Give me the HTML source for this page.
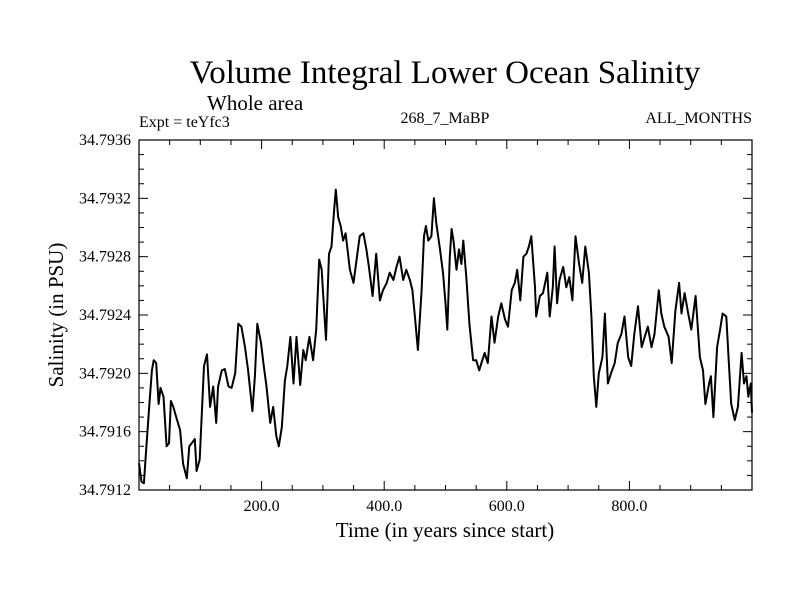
<!DOCTYPE html>
<html><head><meta charset="utf-8"><style>
body{margin:0;background:#fff}
svg{display:block}
text{font-family:"Liberation Serif",serif;fill:#000}
</style></head><body>
<svg id="chart" width="800" height="600" viewBox="0 0 800 600">
<text x="445" y="83" font-size="33" text-anchor="middle">Volume Integral Lower Ocean Salinity</text>
<text x="207" y="110" font-size="21">Whole area</text>
<text x="139" y="127" font-size="16">Expt = teYfc3</text>
<text x="445" y="123" font-size="16" text-anchor="middle">268_7_MaBP</text>
<text x="752" y="123" font-size="16" text-anchor="end">ALL_MONTHS</text>
<text x="445" y="537" font-size="21" text-anchor="middle">Time (in years since start)</text>
<text transform="translate(63,315) rotate(-90)" font-size="21" text-anchor="middle">Salinity (in PSU)</text>
<g id="axes"></g>
<path id="series" fill="none" stroke="#000" stroke-width="2" stroke-linejoin="round"></path>
<rect x="139" y="140" width="613" height="350" fill="none" stroke="#000" stroke-width="1.2"></rect>
</svg>
<script>
const years = [0,4,8,11,17,21,24,28,32,35,40,45,49,52,56,60,67,72,78,82,86,91,94,99,106,111,116,121,126,129,135,140,146,151,157,162,167,173,178,185,189,193,199,203,208,214,219,224,228,233,238,242,247,252,257,263,268,272,278,284,289,294,298,300,305,310,314,318,321,325,329,333,337,344,350,355,360,366,371,375,381,387,393,398,404,409,415,420,425,431,436,442,446,450,455,461,465,468,472,477,481,485,491,496,500,503,507,510,513,518,522,526,529,534,539,545,550,555,560,564,569,575,580,586,591,597,602,608,613,617,622,627,632,636,640,646,648,654,659,666,670,675,678,682,686,692,697,702,707,712,718,723,728,734,738,742,746,750,756,760,765,770,776,781,787,792,798,803,808,814,820,825,830,836,841,848,852,857,864,869,875,881,885,890,896,901,908,915,920,924,930,933,937,943,948,952,958,962,966,972,977,983,987,991,994,998,1000];
const salinity = [34.791383,34.791257,34.791246,34.79143,34.79179,34.79202,34.79209,34.79207,34.79179,34.7919,34.79184,34.7915,34.79152,34.79181,34.79177,34.79171,34.79161,34.79138,34.79128,34.7915,34.79152,34.79155,34.79133,34.79141,34.79205,34.79213,34.79177,34.79191,34.79166,34.79191,34.79202,34.79203,34.79191,34.7919,34.792,34.79234,34.79232,34.79218,34.79202,34.79174,34.79198,34.79234,34.79221,34.79207,34.79191,34.79166,34.79177,34.79157,34.7915,34.79163,34.79195,34.79205,34.79225,34.79193,34.79225,34.79192,34.79216,34.79209,34.79225,34.79209,34.7923,34.79278,34.79271,34.79257,34.79223,34.79282,34.79287,34.7931,34.79326,34.79307,34.79301,34.79291,34.79296,34.79271,34.79262,34.79278,34.79294,34.79296,34.79285,34.79273,34.79253,34.79282,34.7925,34.79257,34.79262,34.79269,34.79264,34.79273,34.7928,34.79264,34.79271,34.79264,34.79257,34.79239,34.79216,34.79257,34.79294,34.79301,34.79291,34.79294,34.7932,34.79303,34.79285,34.79269,34.79248,34.7923,34.7928,34.79299,34.79291,34.79271,34.79285,34.79275,34.79291,34.79266,34.79234,34.79209,34.79209,34.79202,34.79209,34.79214,34.79207,34.79239,34.79221,34.79239,34.79248,34.79237,34.79232,34.79257,34.79262,34.79271,34.7925,34.7928,34.79282,34.79287,34.79294,34.79259,34.79239,34.79253,34.79255,34.79269,34.79239,34.79259,34.79287,34.79248,34.79264,34.79273,34.79259,34.79266,34.7925,34.79294,34.79275,34.79262,34.79287,34.79269,34.79239,34.79198,34.79177,34.792,34.79211,34.79241,34.79193,34.792,34.79207,34.79221,34.79227,34.79239,34.79211,34.79205,34.79227,34.79246,34.79218,34.79225,34.79232,34.79218,34.79227,34.79257,34.79241,34.79232,34.79225,34.79207,34.79243,34.79262,34.79241,34.79255,34.79241,34.7923,34.79253,34.79211,34.79202,34.79179,34.79193,34.79198,34.7917,34.79218,34.7923,34.79241,34.79239,34.79209,34.79179,34.79168,34.79177,34.79214,34.79193,34.79198,34.79184,34.79193,34.79173];
const xTickLabels = ["200.0","400.0","600.0","800.0"];
const yTickLabels = ["34.7912","34.7916","34.7920","34.7924","34.7928","34.7932","34.7936"];

const L=139,R=752,T=140,B=490;
const xMin=0,xMax=1000,yMin=34.7912,yMax=34.7936;
function xs(v){return L+(v-xMin)/(xMax-xMin)*(R-L);}
function ys(v){return B-(v-yMin)/(yMax-yMin)*(B-T);}
const NS="http://www.w3.org/2000/svg";
const axes=document.getElementById('axes');
function line(x1,y1,x2,y2,name){
  const l=document.createElementNS(NS,'line');
  l.setAttribute('x1',x1);l.setAttribute('y1',y1);l.setAttribute('x2',x2);l.setAttribute('y2',y2);
  l.setAttribute('stroke','#000');l.setAttribute('stroke-width','1');
  
  
  axes.appendChild(l);
}
function txt(x,y,s,anchor,name){
  const t=document.createElementNS(NS,'text');
  t.setAttribute('x',x);t.setAttribute('y',y);t.setAttribute('font-size','16');t.setAttribute('text-anchor',anchor);
  t.textContent=s;
  
  
  axes.appendChild(t);
}
for(let v=50;v<1000;v+=50){
  const x=xs(v),len=(v%200===0)?9:5;
  line(x,B,x,B-len,'x-tick');
  line(x,T,x,T+len,'x-tick-top');
}
xTickLabels.forEach(s=>{txt(xs(parseFloat(s)),511,s,'middle','x-tick-label');});
for(let i=1;i<24;i++){
  const v=yMin+i*0.0001,y=ys(v),len=(i%4===0)?9:5;
  line(L,y,L+len,y,'y-tick');
  line(R,y,R-len,y,'y-tick-right');
}
yTickLabels.forEach(s=>{txt(131,ys(parseFloat(s))+5,s,'end','y-tick-label');});
let d='';
years.forEach((yr,i)=>{d+=(i?'L':'M')+xs(yr).toFixed(1)+' '+ys(salinity[i]).toFixed(1);});
document.getElementById('series').setAttribute('d',d);
</script>
</body></html>
